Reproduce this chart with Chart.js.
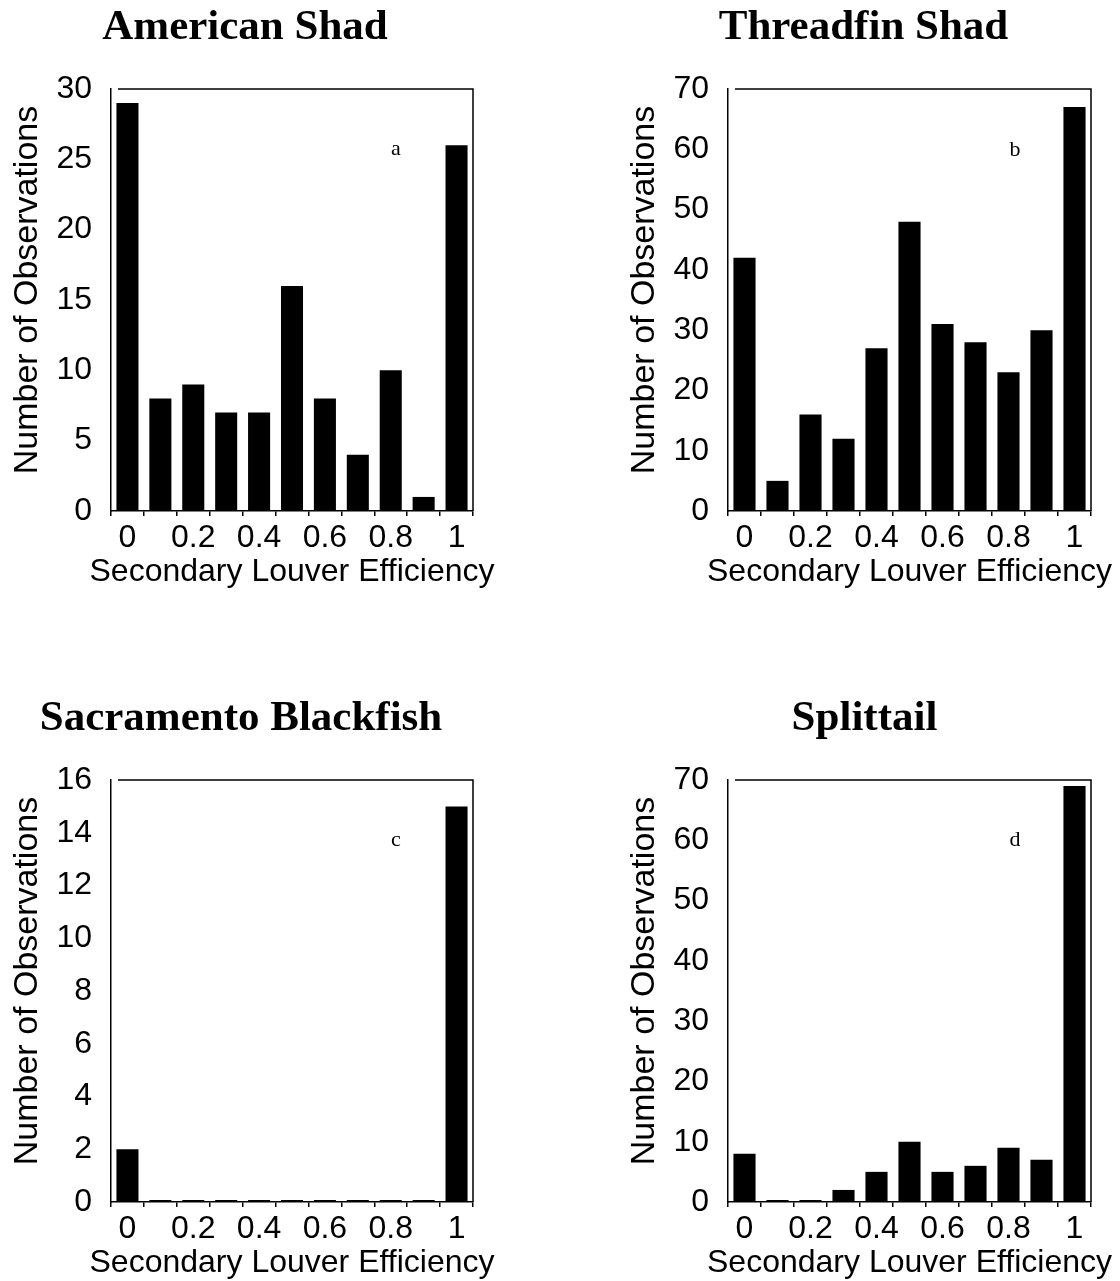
<!DOCTYPE html>
<html><head><meta charset="utf-8">
<script src="https://cdn.jsdelivr.net/npm/chart.js@4.4.0/dist/chart.umd.min.js"></script>
<style>
html,body{margin:0;padding:0;background:#fff;width:1120px;height:1281px;overflow:hidden;}
canvas{position:absolute;}
</style></head><body>
<canvas id="c0" width="560" height="590" style="left:0px;top:0px"></canvas>
<canvas id="c1" width="560" height="590" style="left:560px;top:0px"></canvas>
<canvas id="c2" width="560" height="590" style="left:0px;top:691px"></canvas>
<canvas id="c3" width="560" height="590" style="left:560px;top:691px"></canvas>
<script>
// ---- data ----
const categories = ['0','0.1','0.2','0.3','0.4','0.5','0.6','0.7','0.8','0.9','1'];
const tickLabels = ['0','','0.2','','0.4','','0.6','','0.8','','1'];
const americanShad = [29, 8, 9, 7, 7, 16, 8, 4, 10, 1, 26];
const threadfinShad = [42, 5, 16, 12, 27, 48, 31, 28, 23, 30, 67];
const sacramentoBlackfish = [2, 0, 0, 0, 0, 0, 0, 0, 0, 0, 15];
const splittail = [8, 0, 0, 2, 5, 10, 5, 6, 9, 7, 69];
const panelTitles = ['American Shad', 'Threadfin Shad', 'Sacramento Blackfish', 'Splittail'];
const panelLetters = ['a', 'b', 'c', 'd'];
const yMax = [30, 70, 16, 70];
const yStep = [5, 10, 2, 10];
const xTitle = 'Secondary Louver Efficiency';
const yTitle = 'Number of Observations';

// ---- layout/styling (not data) ----
const seriesList = [americanShad, threadfinShad, sacramentoBlackfish, splittail];
const letterAt = [{i: 8.16, v: 25.7}, {i: 8.2, v: 59.9}, {i: 8.16, v: 13.7}, {i: 8.2, v: 60}];
const padLeft = [0, 57, 0, 57];
const padRight = [87, 29, 87, 29];
const titleShift = [-47, -46, -51, -45];
const SANS = '"Liberation Sans", Arial, sans-serif';
const SERIF = '"Liberation Serif", "Times New Roman", serif';

const framePlugin = {
  id: 'frame',
  afterDraw(chart, args, opts) {
    const {ctx, chartArea: a} = chart;
    ctx.save();
    ctx.strokeStyle = '#000';
    ctx.lineWidth = 1.5;
    ctx.beginPath();
    ctx.moveTo(a.left + 7, a.top);
    ctx.lineTo(a.right, a.top);
    ctx.lineTo(a.right, a.bottom);
    ctx.stroke();
    ctx.fillStyle = '#000';
    ctx.textAlign = 'center';
    ctx.textBaseline = 'alphabetic';
    // panel title
    ctx.font = 'bold 43px ' + SERIF;
    ctx.fillText(opts.title, (a.left + a.right) / 2 + opts.shift, a.top - 50);
    // axis titles
    ctx.font = '32px ' + SANS;
    ctx.fillText(xTitle, (a.left + a.right) / 2, a.bottom + 70);
    ctx.save();
    ctx.translate(a.left - 74, (a.top + a.bottom) / 2 - 10);
    ctx.rotate(-Math.PI / 2);
    ctx.font = '34px ' + SANS;
    ctx.fillText(yTitle, 0, 0);
    ctx.restore();
    // panel letter placed in data coordinates
    const xs = chart.scales.x, ys = chart.scales.y;
    const pos = opts.at;
    const step = xs.getPixelForValue(1) - xs.getPixelForValue(0);
    const xp = xs.getPixelForValue(Math.floor(pos.i)) + (pos.i - Math.floor(pos.i)) * step;
    ctx.font = '22px ' + SERIF;
    ctx.textBaseline = 'middle';
    ctx.fillText(opts.letter, xp, ys.getPixelForValue(pos.v));
    ctx.restore();
  }
};

seriesList.forEach((vals, k) => {
  new Chart(document.getElementById('c' + k), {
    type: 'bar',
    data: {
      labels: categories,
      datasets: [{
        data: vals,
        backgroundColor: '#000',
        borderWidth: 0,
        categoryPercentage: 1.0,
        barPercentage: 0.67,
        minBarLength: 2
      }]
    },
    options: {
      responsive: false,
      animation: false,
      devicePixelRatio: 1,
      layout: {padding: {left: padLeft[k], right: padRight[k], top: 89, bottom: 0}},
      plugins: {
        legend: {display: false},
        tooltip: {enabled: false},
        title: {display: false},
        frame: {title: panelTitles[k], shift: titleShift[k], letter: panelLetters[k], at: letterAt[k]}
      },
      scales: {
        x: {
          type: 'category',
          offset: true,
          grid: {display: true, drawOnChartArea: false, drawTicks: true, tickLength: 5, offset: true, color: '#000', lineWidth: 1.5},
          border: {display: true, color: '#000', width: 1.5},
          ticks: {
            autoSkip: false, maxRotation: 0, minRotation: 0, padding: 6,
            color: '#000', font: {family: SANS, size: 32, lineHeight: 1.0},
            callback: (v, i) => tickLabels[i]
          },
          title: {display: false},
          afterFit(s) { s.height = 79; }
        },
        y: {
          min: 0, max: yMax[k],
          grid: {display: false, drawTicks: false},
          border: {display: true, color: '#000', width: 1.5},
          ticks: {stepSize: yStep[k], padding: 19, color: '#000', font: {family: SANS, size: 32, lineHeight: 1.0}},
          title: {display: false},
          afterFit(s) { s.width = 111; }
        }
      }
    },
    plugins: [framePlugin]
  });
});
</script>
</body></html>
